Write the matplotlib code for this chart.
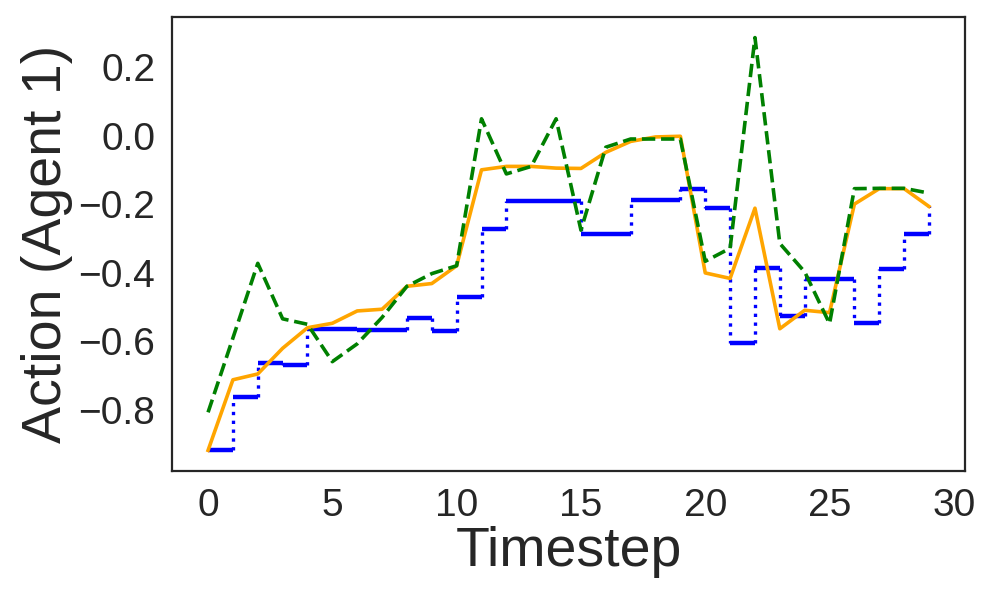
import numpy as np
import matplotlib
matplotlib.use("Agg")
import matplotlib.pyplot as plt

plt.rcParams["font.family"] = ["Liberation Sans", "DejaVu Sans"]

timesteps = np.arange(30)

# orange solid line
action_a = [-0.918, -0.712, -0.695, -0.620, -0.560, -0.547, -0.511, -0.506, -0.439, -0.431,
            -0.379, -0.099, -0.089, -0.089, -0.094, -0.095, -0.048, -0.016, -0.003, -0.001,
            -0.400, -0.416, -0.211, -0.563, -0.509, -0.516, -0.199, -0.154, -0.154, -0.206]

# green dashed line
action_b = [-0.807, -0.590, -0.372, -0.534, -0.550, -0.659, -0.607, -0.530, -0.439, -0.402,
            -0.379, 0.050, -0.111, -0.089, 0.050, -0.275, -0.033, -0.009, -0.009, -0.009,
            -0.366, -0.328, 0.287, -0.314, -0.397, -0.548, -0.154, -0.153, -0.153, -0.167]

# blue step values (held from t to t+1)
action_c = [-0.918, -0.763, -0.663, -0.669, -0.565, -0.565, -0.568, -0.568, -0.531, -0.570,
            -0.469, -0.272, -0.189, -0.189, -0.189, -0.287, -0.287, -0.187, -0.187, -0.154,
            -0.209, -0.605, -0.385, -0.527, -0.418, -0.418, -0.547, -0.389, -0.286, -0.206]

yticks = [-0.8, -0.6, -0.4, -0.2, 0.0, 0.2]
xticks = [0, 5, 10, 15, 20, 25, 30]

fig, ax = plt.subplots(figsize=(4.98, 2.99), dpi=200)
fig.subplots_adjust(left=0.1727, right=0.9689, top=0.9716, bottom=0.2124)

c = np.array(action_c)
ax.hlines(c[:-1], timesteps[:-1], timesteps[1:], colors="blue", linewidth=1.6)
ax.vlines(timesteps[1:], c[:-1], c[1:], colors="blue", linestyles=":", linewidth=1.2)
ax.plot(timesteps, action_a, color="orange", linewidth=1.3)
ax.plot(timesteps, action_b, color="green", linestyle="--", linewidth=1.3)

ax.set_xlabel("Timestep", fontsize=20, color=".15", labelpad=1)
ax.set_ylabel("Action (Agent 1)", fontsize=20, color=".15", labelpad=2)
ax.tick_params(labelsize=14, length=0, pad=6, labelcolor=".15")
ax.set_xticks(xticks)
ax.set_yticks(yticks)
ax.set_yticklabels([f"{v:.1f}".replace("-", "\u2212") for v in yticks])
for s in ax.spines.values():
    s.set_color(".15")
    s.set_linewidth(0.8)

plt.savefig("out.png", dpi=200)
plt.close()
